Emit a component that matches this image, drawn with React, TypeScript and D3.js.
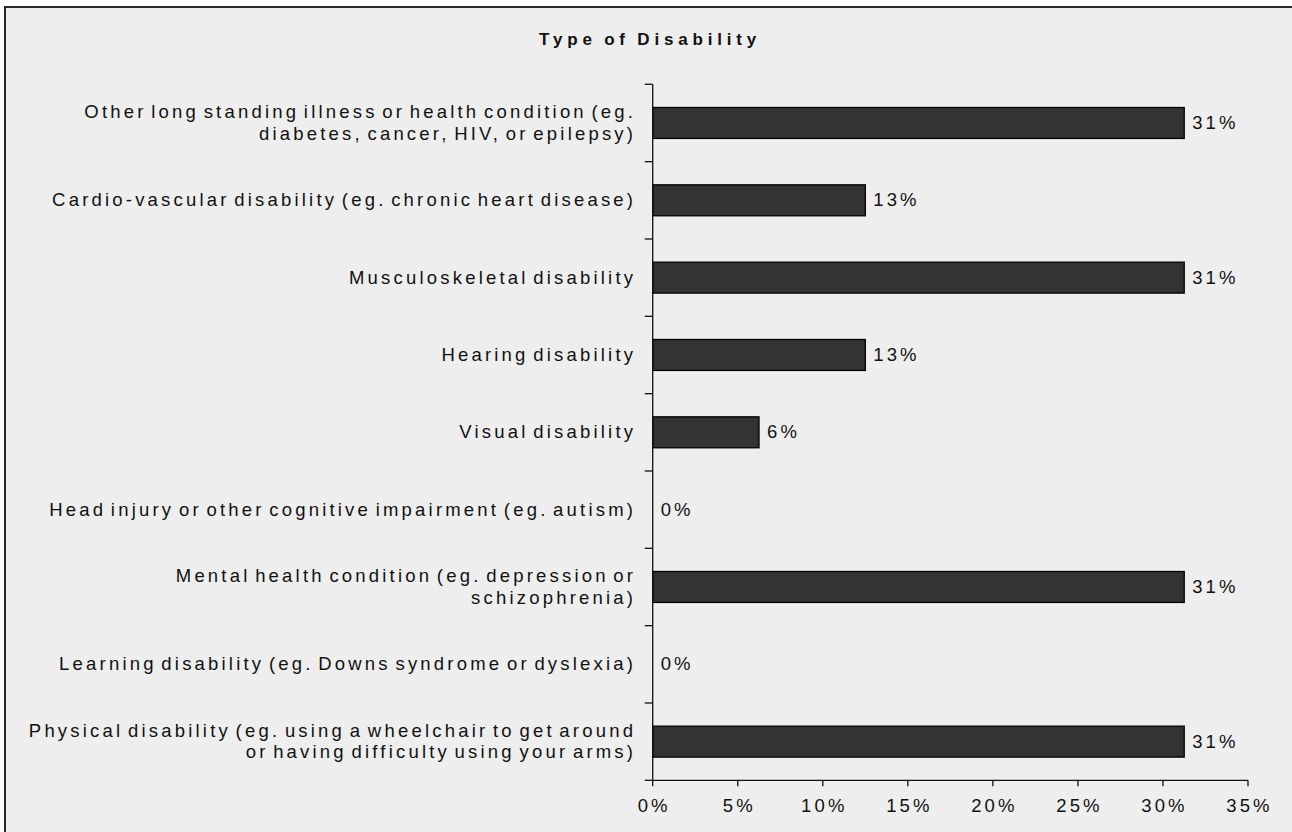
import React from "react";
import * as d3 from "d3";

const categories: string[][] = [
  ["Other long standing illness or health condition (eg.", "diabetes, cancer, HIV, or epilepsy)"],
  ["Cardio-vascular disability (eg. chronic heart disease)"],
  ["Musculoskeletal disability"],
  ["Hearing disability"],
  ["Visual disability"],
  ["Head injury or other cognitive impairment (eg. autism)"],
  ["Mental health condition (eg. depression or", "schizophrenia)"],
  ["Learning disability (eg. Downs syndrome or dyslexia)"],
  ["Physical disability (eg. using a wheelchair to get around", "or having difficulty using your arms)"],
];
const values: number[] = [31.25, 12.5, 31.25, 12.5, 6.25, 0, 31.25, 0, 31.25];
const xTicks: number[] = [0, 5, 10, 15, 20, 25, 30, 35];
const title = "Type of Disability";

const W = 1292;
const H = 832;
const FONT = "'Liberation Sans', Arial, sans-serif";
const FS = 18.5;
const LS = 3.2;
const WS = -3.7;

export default function App() {
  const left = 652.7;
  const right = 1248;
  const top = 84.3;
  const bottom = 780.3;
  const x = d3.scaleLinear().domain([0, 35]).range([left, right]);
  const idx = categories.map((_, i) => String(i));
  const y = d3.scaleBand<string>().domain(idx).range([top, bottom]).paddingInner(0.6).paddingOuter(0.3);
  const step = y.step();
  const boundaries = d3.range(categories.length + 1).map((i) => top + i * step);

  return (
    <svg width={W} height={H} style={{ position: "absolute", left: 0, top: 0, display: "block", background: "#fff" }}>
      <rect x={5} y={7} width={W + 20} height={H + 20} fill="#eeeeee" stroke="#2a2a2a" strokeWidth={2} />
      <text
        x={650}
        y={45}
        textAnchor="middle"
        fontFamily={FONT}
        fontWeight="bold"
        fontSize={17}
        letterSpacing={4.8}
        wordSpacing={-2}
        fill="#111"
      >
        {title}
      </text>
      {/* bars */}
      {values.map((v, i) => (
        <rect
          key={"b" + i}
          x={x(0)}
          y={y(String(i))!}
          width={Math.max(0, x(v) - x(0))}
          height={y.bandwidth()}
          fill="#333333"
          stroke="#000"
          strokeWidth={1.3}
          style={{ display: v > 0 ? undefined : "none" }}
        />
      ))}
      {/* value labels */}
      {values.map((v, i) => (
        <text
          key={"v" + i}
          x={x(v) + 8}
          y={y(String(i))! + y.bandwidth() / 2 + 6}
          fontFamily={FONT}
          fontSize={FS}
          letterSpacing={3.1}
          fill="#111"
        >
          {Math.round(v) + "%"}
        </text>
      ))}
      {/* category labels */}
      {categories.map((lines, i) => {
        const cy = y(String(i))! + y.bandwidth() / 2;
        const lh = 21.7;
        const start = cy - ((lines.length - 1) * lh) / 2 + 6;
        return (
          <text
            key={"c" + i}
            textAnchor="end"
            fontFamily={FONT}
            fontSize={FS}
            letterSpacing={LS}
            wordSpacing={WS}
            fill="#111"
          >
            {lines.map((ln, j) => (
              <tspan key={j} x={633 + LS} y={start + j * lh}>
                {ln}
              </tspan>
            ))}
          </text>
        );
      })}
      {/* y axis */}
      <line x1={left} x2={left} y1={top} y2={bottom} stroke="#111" strokeWidth={1.3} />
      {boundaries.map((b, i) => (
        <line key={"yt" + i} x1={left - 8} x2={left} y1={b} y2={b} stroke="#111" strokeWidth={1.3} />
      ))}
      {/* x axis */}
      <line x1={left} x2={right} y1={bottom} y2={bottom} stroke="#111" strokeWidth={1.3} />
      {xTicks.map((t) => (
        <g key={"xt" + t}>
          <line x1={x(t)} x2={x(t)} y1={bottom} y2={bottom + 6} stroke="#111" strokeWidth={1.3} />
          <text
            x={x(t) + 1.5}
            y={812}
            textAnchor="middle"
            fontFamily={FONT}
            fontSize={FS}
            letterSpacing={3.1}
            fill="#111"
          >
            {t + "%"}
          </text>
        </g>
      ))}
    </svg>
  );
}
